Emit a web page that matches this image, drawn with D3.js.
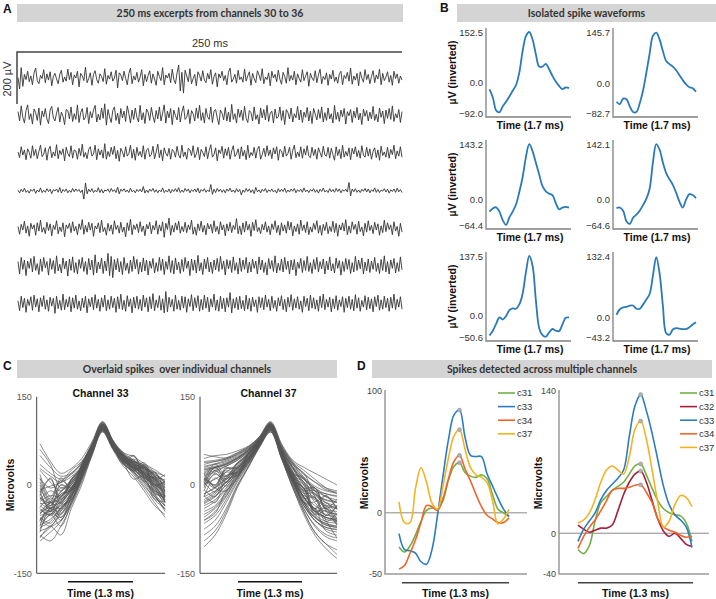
<!DOCTYPE html>
<html><head><meta charset="utf-8">
<script src="https://cdn.jsdelivr.net/npm/d3@7"></script>
<style>body{margin:0;background:#fff}</style>
</head><body>
<script>
// ---- panel A: raw traces (µV), channels 30..36
var channels = [30, 31, 32, 33, 34, 35, 36];
var tr30 = [0,-44,38,-34,12,-8,24,-16,6,-28,18,36,-12,-24,8,-4,30,-20,14,-10,
22,-32,4,16,-6,-24,12,28,-18,2,-14,32,-8,20,-28,10,-2,24,-36,16,
6,-12,40,-20,-4,18,-30,12,26,-8,-22,14,4,-16,34,-26,8,-6,22,-14,
-2,28,-40,18,10,-12,24,-4,-28,16,36,-24,6,-10,20,-18,2,30,-32,12,
-16,8,26,-22,14,-6,-30,24,4,-12,38,-28,10,-2,16,-20,32,-8,-24,18,
48,-52,20,-60,28,6,-16,34,-24,-4,12,-32,22,8,-14,26,-10,-20,16,-6,
30,-26,4,18,-36,14,-2,24,-12,8,-28,20,36,-18,-6,12,-22,28,-8,2,
-18,32,-14,6,22,-30,16,-4,-20,26,10,-12,34,-24,2,-8,18,-32,24,-2,
12,-16,28,-6,-26,20,4,-22,38,-14,8,-10,24,-28,14,-4,-18,30,-12,6,
22,-34,16,-2,-12,26,-20,10,32,-24,4,-8,18,-30,12,-6,28,-16,2,-22,
14,24,-28,8,-4,20,-14,36,-26,6,-10,16,-32,22,-2,-18,30,-8,12,-24,
4,26,-20,10,-6,32,-28,16,-12,2,22,-18,8,-30,24,-4,14,-22,6,-10];
var tr31 = [14,-22,36,-8,-30,18,40,-16,6,-34,24,10,-20,28,-38,16,-6,26,-14,-32,
20,34,-10,-22,8,30,-26,12,-4,-36,22,18,-14,32,-24,6,-16,40,-28,10,
26,-18,-8,30,-32,14,-10,20,38,-26,4,-18,28,-12,44,-38,22,-6,-28,18,
32,-20,8,-34,26,-10,16,-24,36,6,-30,20,-16,28,-8,-26,38,-18,10,-32,
24,12,-20,30,-4,-28,18,-14,32,-22,8,40,-30,16,-10,26,-36,20,-2,-18,
30,-26,12,36,-16,-8,22,-32,18,6,-22,28,-12,38,-20,10,-30,26,-6,-16,
32,-28,16,22,-10,-36,20,8,-18,30,-22,12,-26,42,-16,6,-30,24,-8,20,
-20,34,-12,-28,18,10,-22,32,-16,2,-34,28,-10,22,-18,38,-24,8,16,-30,
24,-12,-6,32,-20,18,-36,22,10,-14,28,-26,6,-10,34,-18,20,-28,12,-8,
30,-22,16,-32,26,4,-18,22,-12,32,-26,10,-20,28,-14,6,-30,38,-16,12,
-24,20,-6,26,-34,14,-2,22,-28,16,-10,30,-18,8,-36,24,-4,18,-22,12,
-14,34,-20,4,-26,28,-8,16,-32,20,-12,26,-16,36,-24,6,-10,22,-28,14];
var tr32 = [4,-18,24,-8,12,-26,16,2,-20,28,-10,14,-22,6,30,-14,-4,20,-28,12,
26,-18,4,-12,32,-22,10,-6,16,-30,22,-2,-14,28,-20,12,8,-24,18,-10,
34,-16,2,-22,14,24,-12,-4,30,-26,16,-8,12,-20,36,-24,6,-14,22,-6,
26,-22,10,-32,18,4,-16,24,-12,-2,30,-20,14,-28,22,-10,6,-16,28,-24,
12,18,-14,-6,26,-22,4,34,-18,12,-30,20,-2,-12,18,-24,14,6,-16,26,
-8,-20,30,-14,4,-24,18,12,-10,28,-18,-4,22,-26,14,2,-14,24,-22,10,
32,-16,-6,20,-30,12,-2,26,-20,16,-10,22,-24,8,28,-14,-4,16,-22,24,
-12,10,-26,30,-18,2,-10,22,-20,14,26,-24,-6,18,-14,28,-10,12,-22,20,
-4,24,-28,14,8,-16,26,-12,-2,22,-24,10,30,-18,4,-14,24,-20,16,-8,
28,-12,-18,22,-10,14,-24,20,2,-16,26,-8,-12,22,-20,18,-6,-28,24,-10,
14,-22,30,-16,6,-12,20,-26,18,-4,24,-14,10,-20,28,-8,-16,22,-12,16,
-24,6,20,-18,12,-28,26,-10,4,-16,22,-20,14,-6,30,-22,8,-12,24,-16];
var tr33 = [2,-8,6,-4,10,-6,1,-9,5,-2,7,-10,3,-5,11,-7,2,-6,8,-3,
6,-11,4,-1,7,-6,12,-9,5,-3,7,-8,2,-6,9,-4,7,-2,5,-7,
3,-32,30,-12,6,-4,8,-7,2,-5,12,-7,6,-9,3,-1,7,-6,9,-3,
4,-7,14,-12,6,-2,8,-5,3,-7,10,-4,2,-8,5,-3,6,-5,16,-9,
3,-7,6,-2,9,-6,4,-8,3,-4,11,-7,2,-5,7,-9,5,-3,8,-4,
12,-7,3,-6,9,-2,7,-8,4,-3,7,-5,10,-9,5,-2,8,-6,3,-4,
24,-14,6,-7,9,-3,6,-6,4,-8,7,-2,10,-5,3,-7,8,-4,5,-16,
3,-6,9,-3,7,-7,4,-11,13,-4,3,-8,6,-2,9,-7,4,-3,7,-5,
2,-9,8,-4,6,-3,10,-7,3,-5,7,-2,9,-8,4,-3,6,-6,11,-4,
3,-7,5,-2,8,-6,4,-9,6,-3,10,-5,2,-7,8,-4,5,-6,9,-3,
7,-8,4,-2,6,-5,32,-20,7,-4,8,-6,3,-7,6,-2,9,-5,7,-8,
4,-3,11,-6,5,-7,3,-2,8,-5,6,-9,4,-3,7,-6,10,-4,5,-7];
var tr34 = [8,-22,16,-6,28,-18,10,-30,20,-2,14,-26,22,-10,32,-14,4,-20,24,-8,
18,-28,12,-4,30,-20,6,-12,22,-32,14,0,20,-16,26,-10,8,-24,18,-4,
34,-22,12,-14,24,-6,20,-30,10,-2,22,-16,32,-12,4,-26,20,-10,14,-22,
30,-4,12,-18,24,-14,6,-32,22,-8,36,-24,14,-4,18,-16,26,-12,10,-28,
16,-2,24,-20,12,-6,30,-22,14,-10,26,-34,20,-4,40,-26,12,-14,22,-6,
28,-18,8,-12,24,-16,14,-4,32,-22,6,-26,18,-8,28,-14,12,-24,20,-2,
16,-18,30,-12,8,-22,26,-6,14,-28,18,-10,24,-16,12,-4,38,-20,10,-24,
22,-14,28,-6,16,-30,24,-8,34,-12,4,-20,16,-6,26,-14,10,-24,18,-4,
30,-16,12,-26,22,-10,14,-18,28,-6,24,-28,10,-12,18,-22,32,-8,14,-16,
26,-24,6,-14,20,-4,30,-18,12,-26,16,-8,24,-20,8,-12,28,-16,20,-30,
14,-6,22,-10,34,-24,10,-18,26,-4,16,-22,28,-12,6,-28,20,-14,30,-8,
12,-20,24,-6,18,-26,10,-16,32,-12,22,-4,14,-24,26,-10,8,-30,20,-14];
var tr35 = [18,-30,34,-12,24,-36,20,-8,30,-22,38,-16,10,-32,28,-20,34,-6,18,-34,
30,-12,22,-28,40,-18,8,-26,32,-10,20,-38,28,-16,36,-24,14,-30,26,-8,
34,-20,18,-32,30,-14,24,-34,44,-26,16,-10,32,-28,20,-18,50,-36,38,-44,
26,-14,30,-22,18,-32,34,-16,12,-28,24,-20,38,-10,26,-30,16,-22,32,-18,
24,-34,20,-8,30,-26,14,-20,34,-16,28,-32,18,-12,40,-24,22,-30,32,-14,
16,-28,26,-20,34,-8,20,-36,28,-16,24,-26,42,-18,14,-32,28,-10,34,-22,
16,-28,24,-14,30,-20,38,-12,20,-34,26,-10,22,-24,36,-16,14,-30,32,-20,
24,-12,34,-26,16,-22,28,-8,20,-30,36,-14,24,-24,14,-34,30,-10,22,-20,
40,-26,12,-16,28,-22,34,-12,20,-30,24,-14,26,-36,16,-8,30,-24,22,-16,
38,-20,14,-28,26,-12,34,-22,18,-10,28,-30,20,-14,36,-18,10,-26,32,-8,
22,-34,18,-20,30,-12,26,-28,14,-22,38,-16,24,-10,32,-30,16,-18,28,-24,
20,-12,34,-20,12,-28,26,-16,40,-22,18,-30,24,-8,30,-26,14,-20,36,-14];
var tr36 = [12,-26,30,-14,22,-32,18,-6,28,-24,34,-12,20,-30,24,-10,32,-20,16,-28,
26,-8,22,-36,30,-18,14,-24,38,-22,18,-12,28,-30,24,-16,34,-20,12,-26,
22,-14,30,-34,20,-10,26,-22,36,-16,18,-28,24,-12,34,-26,16,-20,30,-14,
22,-32,28,-18,38,-22,14,-28,32,-10,20,-34,26,-16,30,-20,18,-26,34,-12,
24,-30,28,-18,40,-26,16,-14,32,-24,20,-34,48,-30,26,-12,18,-28,34,-20,
14,-24,30,-16,28,-32,20,-10,36,-26,24,-14,32,-28,18,-22,34,-16,26,-30,
20,-12,38,-24,16,-28,30,-18,22,-30,24,-12,44,-34,20,-16,26,-22,30,-18,
14,-26,34,-20,22,-28,26,-10,16,-32,28,-14,24,-22,34,-12,18,-26,30,-16,
14,-28,24,-8,32,-22,18,-30,26,-12,36,-24,20,-16,28,-20,12,-32,30,-10,
22,-26,34,-16,24,-20,16,-28,30,-14,38,-22,18,-12,26,-30,20,-18,32,-24,
16,-10,28,-32,22,-14,30,-20,18,-26,36,-16,24,-28,14,-12,32,-22,26,-18,
20,-30,28,-10,34,-24,16,-20,30,-14,22,-28,26,-16,38,-22,18,-12,28,-20];
var traces = [tr30, tr31, tr32, tr33, tr34, tr35, tr36];

// ---- panel B: isolated waveforms (µV inverted)
var wf1 = [-21,-45,-84,-90,-72,-58,-42,-25,-8,30,95,140,152.5,130,85,48,48,56,40,20,3,-10,-20,-15,-17];
var wf2 = [-51,-58,-42,-44,-64,-80,-80,-56,-20,30,85,135,144,125,92,64,55,48,38,24,10,-2,-10,-13,-23];
var wf3 = [-30,-22,-19,-30,-52,-64,-45,-30,-12,20,58,110,143,125,95,65,35,22,16,12,-8,-24,-20,-18,-20];
var wf4 = [-22,-20,-28,-55,-62,-46,-38,-28,-14,2,28,95,142,128,95,68,52,38,18,-5,-20,0,14,12,4];
var wf5 = [-47,-36,-20,-5,-10,-2,12,16,15,25,50,100,137.5,115,35,-30,-46,-50,-40,-32,-36,-37,-22,-6,-5];
var wf6 = [5,17,21,22,25,25,18,18,27,38,50,90,130,95,25,-35,-38,-27,-24,-25,-26,-26,-22,-16,-11];
var waveforms = [wf1, wf2, wf3, wf4, wf5, wf6];
var wfMax = [152.5, 145.7, 143.2, 142.1, 137.5, 132.4];
var wfMin = [-92.0, -82.7, -64.4, -64.6, -50.6, -43.2];

// ---- panel C: overlaid spikes (µV), 13 samples each, peak at sample 6
var ch33 = [
[-40,-52,-30,-10,20,62,100,70,45,30,18,5,-10],[-60,-45,-50,-20,15,58,96,66,40,38,20,-5,-25],
[10,-5,5,25,40,70,104,72,50,35,30,15,8],[-75,-50,-70,-30,10,55,94,64,36,22,5,-20,-40],
[-20,-35,-10,5,30,66,101,71,48,40,25,12,-2],[70,40,20,28,45,74,108,76,55,42,30,22,15],
[-90,-70,-85,-40,0,52,92,62,38,18,-5,-30,-55],[-50,-30,-40,-15,22,60,98,68,52,36,28,10,-18],
[-15,-40,0,-5,35,68,103,73,42,26,30,0,5],[-65,-50,-35,-25,15,57,95,65,40,44,32,15,-20],
[25,5,-10,10,32,65,104,70,46,30,14,-8,-25],[-35,-45,-20,-5,25,62,99,69,50,34,22,8,-8],
[-80,-40,-60,-20,12,56,96,66,35,50,12,-15,-45],[0,-35,-5,-10,30,66,101,71,54,30,38,10,18],
[-55,-65,-40,-18,18,58,95,64,42,28,8,-10,-30],[50,30,15,20,38,70,106,74,48,30,22,10,-5],
[-85,-95,-70,-35,5,50,90,60,32,14,-10,-35,-50],[-45,-30,-25,-5,25,61,98,68,46,38,24,6,-15],
[-25,-10,-18,8,30,65,102,72,50,32,18,12,0],[-70,-30,-55,-28,14,56,93,63,38,10,16,-24,-28],
[35,20,10,18,36,69,105,75,52,40,28,18,8],[-10,-45,-15,-10,28,64,101,70,44,24,34,-12,-22],
[-60,-40,-48,-12,20,58,96,66,40,34,18,-6,-35],[-30,-40,-22,0,26,62,99,69,52,42,30,20,5],
[-78,-70,-50,-26,12,55,94,64,36,24,10,-18,-42],[5,-28,12,-6,34,67,104,74,48,28,12,22,-12],
[-48,-35,-30,-8,22,60,97,67,44,36,26,12,-14],[-22,-30,-12,4,28,63,100,70,55,48,36,26,14],
[-62,-48,-55,-22,15,57,92,62,40,30,14,-2,-22],[18,-20,8,-4,34,67,103,73,46,50,10,-10,-18],
[-38,-22,-30,-6,24,61,99,68,42,26,14,-4,-28],[-72,-62,-38,-20,16,57,96,66,45,34,24,6,-20],
[-12,10,-24,10,30,65,101,72,52,24,34,0,6],[-52,-44,-34,-14,18,58,95,63,36,20,2,-25,-40],
[28,15,5,20,38,70,107,76,50,32,20,2,-10],[-28,-18,-20,2,26,63,100,69,48,36,22,10,-6],
[-88,-72,-60,-32,8,53,93,63,38,28,18,0,-28],[-42,-50,-26,-8,22,60,98,67,42,30,16,-2,-25],
[-8,-2,4,14,32,66,102,72,50,40,32,18,4],[-58,-42,-44,-16,18,58,95,65,40,32,20,4,-22],
[12,-25,0,-8,32,66,101,70,44,28,28,-14,-20],[-32,-28,-16,0,26,62,98,68,48,40,30,16,0],
[-68,-58,-40,-24,14,56,94,64,38,22,6,-15,-36],[-18,12,-32,8,30,64,100,70,50,38,6,14,-4],
[-48,-38,-40,-10,22,60,96,66,42,32,20,8,-18],[-22,-38,-28,-4,24,61,97,68,46,36,28,14,-10],
[-95,-80,-62,-30,10,54,91,62,40,30,16,2,-30],[-5,-30,-20,4,28,64,100,70,44,22,-2,-20,-35],
[-58,-70,-44,-18,18,58,95,65,42,40,34,22,2],[60,35,-5,8,30,66,103,72,46,26,12,0,-12]
];
var ch37 = [
[10,-5,25,18,52,75,98,55,20,-10,-5,-40,-45],[-20,-10,5,25,45,70,95,50,10,-20,-45,-55,-60],
[30,35,40,48,60,78,102,62,30,10,-5,-20,-30],[-60,-45,-20,12,38,68,93,48,5,-35,-55,-65,-70],
[0,30,10,32,50,74,100,55,18,-12,-40,-18,-40],[45,50,52,58,66,82,106,68,40,25,10,-5,-15],
[-105,-85,-50,-5,30,64,90,45,0,-45,-80,-100,-118],[15,0,30,20,55,76,101,58,22,-5,-5,-42,-50],
[-30,-18,0,20,42,70,96,52,12,-20,-40,-50,-55],[25,30,35,45,58,78,103,60,30,5,-10,-15,-20],
[-5,25,5,30,48,72,99,54,16,5,-45,-40,-65],[-45,-35,-12,15,40,68,94,48,5,-30,-60,-75,-80],
[35,40,44,52,62,80,105,65,38,18,5,-5,-10],[5,-12,22,15,52,74,100,54,10,-5,-45,-35,-58],
[-15,-5,10,28,46,71,97,52,8,-30,-55,-68,-72],[20,28,34,44,58,77,102,60,28,0,-18,-30,-35],
[-75,-60,-30,5,35,66,92,46,-2,-40,-70,-88,-95],[8,36,16,38,54,75,100,56,18,-30,-30,-62,-48],
[-25,-12,5,24,44,70,96,52,14,-15,-35,-45,-50],[52,48,46,54,64,82,108,70,42,30,20,10,0],
[-10,20,4,30,48,72,98,53,10,-30,-40,-78,-85],[28,32,38,46,60,79,103,62,30,5,-15,-25,-28],
[-35,-25,-5,18,42,69,95,50,6,-35,-60,-72,-75],[12,0,28,30,55,76,101,57,20,12,-28,-18,-42],
[-50,-38,-15,14,38,68,94,49,8,-20,-42,-55,-60],[2,10,22,36,52,74,99,55,15,-20,-45,-58,-62],
[40,42,46,55,65,81,106,66,38,20,5,-8,-12],[-20,12,-2,26,45,71,97,52,10,-5,-50,-44,-68],
[18,25,32,42,57,77,102,59,24,-5,-22,-34,-38],[-85,-70,-40,0,32,65,91,46,-5,-45,-80,-100,-110],
[-8,-20,16,22,50,73,99,55,18,-10,-10,-40,-24],[22,30,36,46,60,79,103,62,32,10,-8,-20,-25],
[-40,-28,-8,16,40,69,95,50,6,-28,-50,-62,-65],[6,30,14,37,53,75,100,56,16,-18,-20,-52,-35],
[-15,-4,12,28,47,72,97,53,12,-22,-44,-55,-58],[32,36,42,50,62,80,104,64,35,12,-5,-15,-18],
[-65,-52,-25,8,36,67,93,47,2,-40,-68,-84,-90],[12,-2,28,28,54,75,100,55,14,0,-40,-30,-52],
[-28,-15,4,22,44,70,96,51,10,-25,-52,-66,-70],[26,30,36,46,59,78,103,60,28,2,-16,-26,-30],
[-2,18,10,34,51,74,99,55,16,-14,-14,-44,-68],[-55,-40,-18,12,38,68,94,48,4,-34,-60,-72,-76],
[16,22,32,42,56,77,101,58,22,-8,-25,-36,-40],[-18,-30,10,16,46,71,97,52,10,-6,-48,-38,-62],
[38,40,44,52,64,80,105,64,36,14,-2,-10,-14],[-95,-78,-45,-2,30,64,90,44,-4,-50,-85,-108,-125],
[4,24,14,36,52,74,99,54,12,-22,-22,-52,-36],[-32,-20,0,20,42,69,96,51,8,-30,-55,-68,-72],
[-60,-48,-10,10,44,70,97,53,20,10,-10,-30,-40],[20,-5,-10,22,46,72,98,58,35,20,-20,-60,-90]
];
var cTitles = ["Channel 33", "Channel 37"];

// ---- panel D: multi-channel spikes (µV)
var d1c31 = [-28,-32,-27,-18,-7,2,4,3,10,27,38,41,33,30,29,31,28,15,3,0,-3];
var d1c33 = [-17,-30,-31,-33,-40,-42,-30,-2,30,60,80,84,62,47,46,46,32,22,12,3,-3];
var d1c34 = [-46,-43,-33,-22,-8,6,5,2,12,28,42,47,36,26,15,5,-2,-5,-8,-8,-4];
var d1c37 = [9,-8,-8,20,37,25,8,3,22,45,63,68,52,37,31,29,25,10,-9,-5,3];
var d2c31 = [-16,-20,-12,12,30,36,42,46,50,58,66,68,57,44,32,24,20,18,17,10,-8];
var d2c32 = [8,4,1,3,5,5,8,22,38,50,58,61,50,32,14,2,-3,0,-5,-11,-13];
var d2c33 = [-8,4,12,20,33,42,48,54,62,95,125,136,120,98,72,46,28,18,13,6,-14];
var d2c34 = [-15,-3,6,13,22,32,42,44,44,45,47,47.5,40,30,14,6,3,1,-2,-4,-3];
var d2c37 = [10,13,20,33,50,62,66,62,58,75,102,110,92,62,30,6,12,28,37,35,26];
var d1Names = ["c31", "c33", "c34", "c37"];
var d2Names = ["c31", "c32", "c33", "c34", "c37"];
var chColor = {c31: "#72b043", c32: "#a51d3c", c33: "#2b7cc0", c34: "#f2632a", c37: "#f5b324"};

var svg = d3.select("body").append("svg")
    .attr("width", 716)
    .attr("height", 599)
    .style("font-family", "Liberation Sans, Arial, sans-serif");

function header(x0, x1, y0, label) {
  svg.append("rect").attr("x", x0).attr("y", y0).attr("width", x1 - x0).attr("height", 18)
    .attr("fill", "#d4d4d4");
  svg.append("text").attr("x", (x0 + x1) / 2).attr("y", y0 + 12.5).attr("text-anchor", "middle")
    .style("font-family", "Lato, sans-serif").style("font-weight", 700).style("font-size", "10.5px")
    .style("white-space", "pre").attr("fill", "#333").text(label);
}
function letter(x, y, s) {
  svg.append("text").attr("x", x).attr("y", y).style("font-weight", "bold")
    .style("font-size", "12px").attr("fill", "#111").text(s);
}
function boldLabel(x, y, s, rot) {
  var t = svg.append("text").attr("text-anchor", "middle").style("font-weight", "bold")
    .style("font-size", "10.5px").attr("fill", "#111").text(s);
  if (rot) t.attr("transform", "translate(" + x + "," + y + ") rotate(-90)");
  else t.attr("x", x).attr("y", y);
}

// ===== A
letter(3, 13, "A");
header(17, 403, 4, "250 ms excerpts from channels 30 to 36");
var amp = d3.scaleLinear().domain([0, 200]).range([0, 52]);
var rowY = d3.scalePoint().domain(channels).range([77.5, 304]);
svg.append("path").attr("d", "M17," + (52 + amp(200)) + "V52H402")
  .attr("fill", "none").attr("stroke", "#444").attr("stroke-width", 1.5);
svg.append("text").attr("x", 210).attr("y", 47).attr("text-anchor", "middle")
  .style("font-size", "11px").attr("fill", "#333").text("250 ms");
svg.append("text").attr("transform", "translate(11,79) rotate(-90)").attr("text-anchor", "middle")
  .style("font-size", "11px").attr("fill", "#333").text("200 µV");
traces.forEach(function(tr, k) {
  var x = d3.scaleLinear().domain([0, tr.length - 1]).range([18, 402]);
  var base = rowY(channels[k]);
  svg.append("path").datum(tr)
    .attr("d", d3.line().x(function(d, i) { return x(i); }).y(function(d) { return base - amp(d); }))
    .attr("fill", "none").attr("stroke", "#333").attr("stroke-width", 0.9);
});

// ===== B
letter(440, 12, "B");
header(457, 716, 4, "Isolated spike waveforms");
var bCols = [486, 613], bRows = [28, 140, 252];
waveforms.forEach(function(wf, k) {
  var ax = bCols[k % 2], top = bRows[Math.floor(k / 2)], bot = top + 89;
  var x = d3.scaleLinear().domain([0, wf.length - 1]).range([ax + 3.5, ax + 83]);
  var y = d3.scaleLinear().domain([wfMin[k], wfMax[k]]).range([bot - 4, top + 4]);
  var g = svg.append("g").attr("transform", "translate(" + ax + ",0)")
    .call(d3.axisLeft(y).tickValues([wfMin[k], 0, wfMax[k]]).tickSize(0).tickPadding(3)
      .tickFormat(d3.format(".1f")));
  g.select(".domain").remove();
  g.selectAll("text").style("font-family", "Liberation Sans, Arial, sans-serif")
    .style("font-size", "9.5px").attr("fill", "#333");
  svg.append("path").attr("d", "M" + ax + "," + top + "V" + bot + "H" + (ax + 85))
    .attr("fill", "none").attr("stroke", "#808080").attr("stroke-width", 1.3);
  svg.append("path").datum(wf)
    .attr("d", d3.line().curve(d3.curveCatmullRom).x(function(d, i) { return x(i); }).y(y))
    .attr("fill", "none").attr("stroke", "#2a7ab9").attr("stroke-width", 1.8);
  boldLabel(ax + 44, bot + 12, "Time (1.7 ms)");
  if (k % 2 === 0) boldLabel(456, (top + bot) / 2, "µV (inverted)", true);
});

// ===== C
letter(3, 369.5, "C");
header(17, 337, 360, "Overlaid spikes  over individual channels");
var cY = d3.scaleLinear().domain([-150, 150]).range([573.3, 396.7]);
var cAx = [36.7, 200], cRight = [165, 337], cLine = [[40, 165], [204, 337]], cBar = [[68, 133], [238, 302]];
[ch33, ch37].forEach(function(set, k) {
  var x = d3.scaleLinear().domain([0, 12]).range(cLine[k]);
  var g = svg.append("g").attr("transform", "translate(" + cAx[k] + ",0)")
    .call(d3.axisLeft(cY).tickValues([-150, 0, 150]).tickSize(0).tickPadding(5)
      .tickFormat(function(d) { return String(d); }));
  g.select(".domain").remove();
  g.selectAll("text").style("font-family", "Liberation Sans, Arial, sans-serif")
    .style("font-size", "9px").attr("fill", "#555");
  svg.append("g").selectAll("path").data(set).enter().append("path")
    .attr("d", d3.line().curve(d3.curveCatmullRom).x(function(d, i) { return x(i); }).y(cY))
    .attr("fill", "none").attr("stroke", "#555").attr("stroke-width", 0.75).attr("stroke-opacity", 0.9);
  svg.append("path").attr("d", "M" + cAx[k] + ",396.7V573.3H" + cRight[k])
    .attr("fill", "none").attr("stroke", "#444").attr("stroke-width", 1);
  svg.append("line").attr("x1", cBar[k][0]).attr("x2", cBar[k][1]).attr("y1", 581.7).attr("y2", 581.7)
    .attr("stroke", "#111").attr("stroke-width", 1.5);
  boldLabel(x(6) - 2, 397, cTitles[k]);
  boldLabel((cBar[k][0] + cBar[k][1]) / 2, 597, "Time (1.3 ms)");
});
boldLabel(14, 485, "Microvolts", true);

// ===== D
letter(357, 369.5, "D");
header(372, 712, 360, "Spikes detected across multiple channels");
var dPanels = [
  {ax: 385, right: 527, lines: [399, 509], bar: [402, 509], dom: [-50, 100], names: d1Names,
   series: [d1c31, d1c33, d1c34, d1c37], legX: 498},
  {ax: 559, right: 709, lines: [578, 692], bar: [578, 693], dom: [-40, 140], names: d2Names,
   series: [d2c31, d2c32, d2c33, d2c34, d2c37], legX: 680}
];
dPanels.forEach(function(p) {
  var x = d3.scaleLinear().domain([0, 20]).range(p.lines);
  var y = d3.scaleLinear().domain(p.dom).range([574, 390.5]);
  var g = svg.append("g").attr("transform", "translate(" + p.ax + ",0)")
    .call(d3.axisLeft(y).tickValues([p.dom[0], 0, p.dom[1]]).tickSize(0).tickPadding(3)
      .tickFormat(function(d) { return String(d); }));
  g.select(".domain").remove();
  g.selectAll("text").style("font-family", "Liberation Sans, Arial, sans-serif")
    .style("font-size", "9px").attr("fill", "#444");
  svg.append("line").attr("x1", p.ax).attr("x2", p.right).attr("y1", y(0)).attr("y2", y(0))
    .attr("stroke", "#8a8a8a").attr("stroke-width", 1);
  svg.append("path").attr("d", "M" + p.ax + ",390V574H" + p.right)
    .attr("fill", "none").attr("stroke", "#999").attr("stroke-width", 1.5);
  p.series.forEach(function(s, j) {
    svg.append("path").datum(s)
      .attr("d", d3.line().curve(d3.curveCatmullRom).x(function(d, i) { return x(i); }).y(y))
      .attr("fill", "none").attr("stroke", chColor[p.names[j]]).attr("stroke-width", 1.6);
  });
  p.series.forEach(function(s) {
    var m = d3.maxIndex(s);
    svg.append("circle").attr("cx", x(m)).attr("cy", y(s[m])).attr("r", 2)
      .attr("fill", "#b0b0b0").attr("stroke", "#8c8c8c").attr("stroke-width", 0.5);
  });
  p.names.forEach(function(n, j) {
    var ly = 393 + j * 13.6;
    svg.append("line").attr("x1", p.legX).attr("x2", p.legX + 17).attr("y1", ly).attr("y2", ly)
      .attr("stroke", chColor[n]).attr("stroke-width", 1.6);
    svg.append("text").attr("x", p.legX + 19).attr("y", ly + 3.3).style("font-size", "9.5px")
      .attr("fill", "#333").text(n);
  });
  svg.append("line").attr("x1", p.bar[0]).attr("x2", p.bar[1]).attr("y1", 582.7).attr("y2", 582.7)
    .attr("stroke", "#444").attr("stroke-width", 1.5);
  boldLabel((p.bar[0] + p.bar[1]) / 2, 597, "Time (1.3 ms)");
  boldLabel(p.ax - 17, 483, "Microvolts", true);
});
</script>
</body></html>
